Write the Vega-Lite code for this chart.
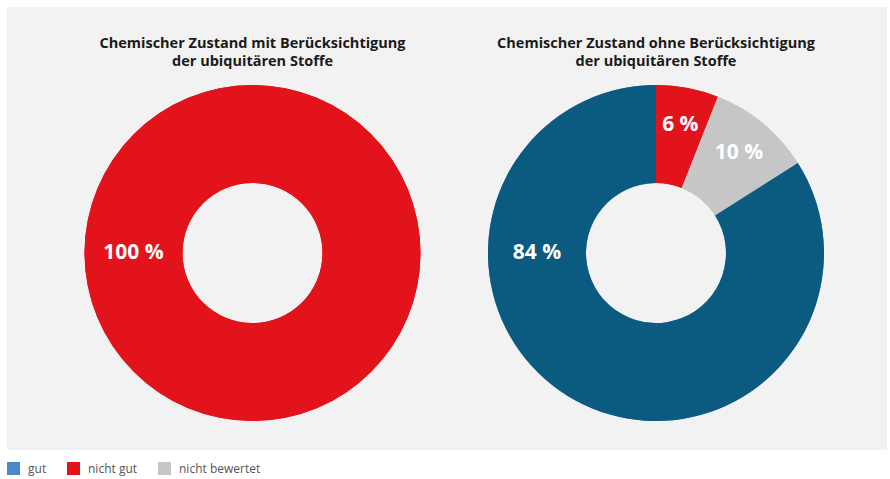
{
  "$schema": "https://vega.github.io/schema/vega-lite/v6.json",
  "width": 890,
  "height": 479,
  "autosize": {"type": "fit", "contains": "padding"},
  "padding": {"left": 7, "right": 3, "top": 7, "bottom": 4},
  "background": "white",
  "config": {
    "view": {"stroke": null, "fill": "#f2f2f2"},
    "font": "Open Sans",
    "legend": {
      "orient": "bottom",
      "direction": "horizontal",
      "symbolType": "square",
      "symbolSize": 169,
      "symbolStrokeWidth": 0,
      "labelFontSize": 12,
      "labelColor": "#555555",
      "labelFont": "Open Sans",
      "columnPadding": 20,
      "labelOffset": 8,
      "offset": 12,
      "padding": 0
    }
  },
  "datasets": {
    "anteile": [
      {"diagramm": "mit", "zustand": "nicht gut", "anteil": 100, "beschriftung": "100 %"},
      {"diagramm": "ohne", "zustand": "nicht gut", "anteil": 6, "beschriftung": "6 %"},
      {"diagramm": "ohne", "zustand": "nicht bewertet", "anteil": 10, "beschriftung": "10 %"},
      {"diagramm": "ohne", "zustand": "gut", "anteil": 84, "beschriftung": "84 %"}
    ],
    "titel": [
      {"diagramm": "mit", "titel": "Chemischer Zustand mit Berücksichtigung\nder ubiquitären Stoffe"},
      {"diagramm": "ohne", "titel": "Chemischer Zustand ohne Berücksichtigung\nder ubiquitären Stoffe"}
    ]
  },
  "data": {"name": "anteile"},
  "encoding": {
    "x": {
      "field": "diagramm",
      "type": "nominal",
      "scale": {"type": "point", "domain": ["mit", "ohne"], "padding": 0.5905, "align": 0.5152},
      "axis": null
    }
  },
  "layer": [
    {
      "transform": [{"filter": "datum.diagramm === 'mit'"}],
      "mark": {"type": "arc", "innerRadius": 70, "outerRadius": 168},
      "encoding": {
        "y": {"datum": "ring", "type": "nominal", "scale": {"type": "point", "domain": ["titel", "ring"], "padding": 0.5598, "align": 0.1581}, "axis": null},
        "theta": {"field": "anteil", "type": "quantitative", "stack": true},
        "order": {"field": "zustand", "sort": "descending"},
        "color": {
          "field": "zustand",
          "type": "nominal",
          "scale": {"domain": ["gut", "nicht gut", "nicht bewertet"], "range": ["#4a88c9", "#e3131b", "#c6c6c6"]},
          "legend": {"title": null}
        }
      }
    },
    {
      "transform": [{"filter": "datum.diagramm === 'ohne'"}],
      "mark": {"type": "arc", "innerRadius": 70, "outerRadius": 168},
      "encoding": {
        "y": {"datum": "ring", "type": "nominal", "scale": {"type": "point", "domain": ["titel", "ring"], "padding": 0.5598, "align": 0.1581}, "axis": null},
        "theta": {"field": "anteil", "type": "quantitative", "stack": true},
        "order": {"field": "zustand", "sort": "descending"},
        "color": {"field": "zustand", "type": "nominal", "legend": {"title": null}}
      }
    },
    {
      "transform": [{"filter": "datum.diagramm === 'mit'"}],
      "mark": {"type": "arc", "innerRadius": 70, "outerRadius": 168},
      "encoding": {
        "y": {"datum": "ring", "type": "nominal", "axis": null},
        "theta": {"field": "anteil", "type": "quantitative", "stack": true},
        "order": {"field": "zustand", "sort": "descending"},
        "fill": {
          "field": "zustand",
          "type": "nominal",
          "scale": {"domain": ["gut", "nicht gut", "nicht bewertet"], "range": ["#0b5b80", "#e3131b", "#c6c6c6"]},
          "legend": null
        }
      }
    },
    {
      "transform": [{"filter": "datum.diagramm === 'ohne'"}],
      "mark": {"type": "arc", "innerRadius": 70, "outerRadius": 168},
      "encoding": {
        "y": {"datum": "ring", "type": "nominal", "axis": null},
        "theta": {"field": "anteil", "type": "quantitative", "stack": true},
        "order": {"field": "zustand", "sort": "descending"},
        "fill": {"field": "zustand", "type": "nominal", "legend": null}
      }
    },
    {
      "transform": [{"filter": "datum.diagramm === 'ohne'"}],
      "mark": {"type": "text", "radius": 130, "fontSize": 21, "fontWeight": "bold", "fill": "white", "font": "Open Sans"},
      "encoding": {
        "y": {"datum": "ring", "type": "nominal", "axis": null},
        "theta": {"field": "anteil", "type": "quantitative", "stack": true},
        "order": {"field": "zustand", "sort": "descending"},
        "text": {"condition": {"test": "datum.anteil < 50", "field": "beschriftung"}, "value": ""}
      }
    },
    {
      "transform": [{"filter": "datum.anteil >= 50"}],
      "mark": {"type": "text", "theta": 4.712, "radius": 119, "fontSize": 21, "fontWeight": "bold", "fill": "white", "font": "Open Sans"},
      "encoding": {
        "y": {"datum": "ring", "type": "nominal", "axis": null},
        "text": {"field": "beschriftung"}
      }
    },
    {
      "data": {"name": "titel"},
      "mark": {"type": "text", "lineBreak": "\n", "fontSize": 14.5, "fontWeight": "bold", "fill": "#1a1a1a", "lineHeight": 18, "baseline": "middle", "font": "Open Sans"},
      "encoding": {
        "y": {"datum": "titel", "type": "nominal", "axis": null},
        "text": {"field": "titel"}
      }
    }
  ]
}
